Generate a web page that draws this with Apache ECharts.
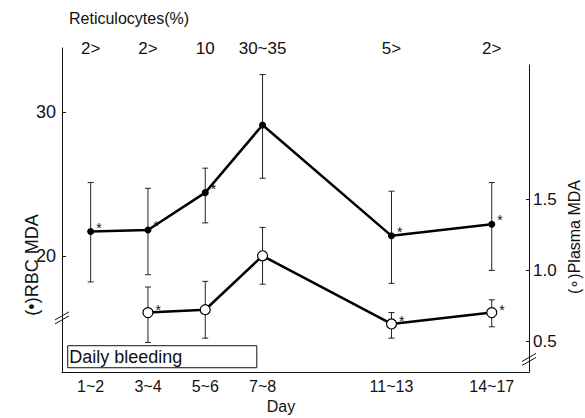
<!DOCTYPE html>
<html lang="en">
<head>
<meta charset="UTF-8">
<title>RBC MDA / Plasma MDA</title>
<script src="https://cdn.jsdelivr.net/npm/echarts@6/dist/echarts.min.js"></script>
<style>
  html, body { margin: 0; padding: 0; background: #fff; }
  #chart { width: 585px; height: 418px; }
</style>
</head>
<body>
<div id="chart"></div>
<script>
  // day groups, placed at the middle day of each group on a linear day scale
  var dayPos = [1.5, 3.5, 5.5, 7.5, 12, 15.5];
  var dayLabels = ['1~2', '3~4', '5~6', '7~8', '11~13', '14~17'];
  var reticLabels = ['2>', '2>', '10', '30~35', '5>', '2>'];

  // RBC MDA (filled dots, left axis)
  var rbcMean = [21.7, 21.8, 24.4, 29.1, 21.4, 22.2];
  var rbcLow = [18.2, 18.7, 22.3, 25.4, 18.1, 19.0];
  var rbcHigh = [25.1, 24.7, 26.1, 32.6, 24.5, 25.1];
  var rbcStar = [1, 1, 1, 0, 1, 1];

  // Plasma MDA (open dots, right axis), nothing measured on day 1~2
  var plasmaMean = [null, 0.70, 0.72, 1.10, 0.62, 0.70];
  var plasmaLow = [null, 0.49, 0.52, 0.90, 0.52, 0.60];
  var plasmaHigh = [null, 0.88, 0.92, 1.30, 0.70, 0.79];
  var plasmaStar = [0, 1, 0, 0, 1, 1];

  var rbcTicks = [20, 30];
  var plasmaTicks = [0.5, 1.0, 1.5];
  var bleedingDays = [0.7, 7.3];

  var FONT = '"Liberation Sans", Arial, sans-serif';
  var INK = '#111';

  function pts(mean, star) {
    var out = [];
    for (var i = 0; i < dayPos.length; i++) {
      if (mean[i] == null) continue;
      out.push({ value: [dayPos[i], mean[i]], label: { show: !!star[i] } });
    }
    return out;
  }
  function bars(low, high) {
    var out = [];
    for (var i = 0; i < dayPos.length; i++) {
      if (low[i] == null) continue;
      out.push([dayPos[i], low[i], high[i]]);
    }
    return out;
  }
  function errRender(params, api) {
    var a = api.coord([api.value(0), api.value(1)]);
    var b = api.coord([api.value(0), api.value(2)]);
    var w = 3, st = { stroke: '#222', lineWidth: 1 };
    return {
      type: 'group',
      children: [
        { type: 'line', shape: { x1: a[0], y1: a[1], x2: b[0], y2: b[1] }, style: st },
        { type: 'line', shape: { x1: a[0] - w, y1: a[1], x2: a[0] + w, y2: a[1] }, style: st },
        { type: 'line', shape: { x1: b[0] - w, y1: b[1], x2: b[0] + w, y2: b[1] }, style: st }
      ]
    };
  }
  function fmtDay(v) {
    var i = dayPos.indexOf(v);
    return i < 0 ? '' : dayLabels[i];
  }
  function fmtRetic(v) {
    var i = dayPos.indexOf(v);
    return i < 0 ? '' : reticLabels[i];
  }

  var chart = echarts.init(document.getElementById('chart'), null, { renderer: 'svg' });

  var axisLine = { show: true, lineStyle: { color: INK, width: 1 } };
  var labelStyle = { color: INK, fontFamily: FONT };

  var option = {
    animation: false,
    textStyle: { fontFamily: FONT, color: INK },
    grid: [
      { left: 62, right: 56, top: 48, bottom: 46 },
      { left: 62, right: 56, top: 65, bottom: 46 }
    ],
    xAxis: [
      {
        type: 'value', gridIndex: 0, position: 'bottom', min: 0.5, max: 16.8,
        axisLine: axisLine, axisTick: { show: false }, splitLine: { show: false },
        axisLabel: Object.assign({ customValues: dayPos, formatter: fmtDay, fontSize: 16, margin: 6 }, labelStyle)
      },
      {
        type: 'value', gridIndex: 0, position: 'top', min: 0.5, max: 16.8, offset: -15,
        axisLine: { show: false }, axisTick: { show: false }, splitLine: { show: false },
        axisLabel: Object.assign({ customValues: dayPos, formatter: fmtRetic, fontSize: 17, margin: 6 }, labelStyle)
      },
      { type: 'value', gridIndex: 1, min: 0.5, max: 16.8, show: false }
    ],
    yAxis: [
      {
        type: 'value', gridIndex: 0, position: 'left', min: 11.944, max: 34.444,
        axisLine: axisLine, splitLine: { show: false },
        axisTick: { show: true, inside: true, length: 4, customValues: rbcTicks, lineStyle: { color: INK } },
        axisLabel: Object.assign({ customValues: rbcTicks, fontSize: 18, margin: 6 }, labelStyle)
      },
      {
        type: 'value', gridIndex: 1, position: 'right', min: 0.2817, max: 2.4437,
        axisLine: axisLine, splitLine: { show: false },
        axisTick: { show: true, inside: true, length: 3, customValues: plasmaTicks, lineStyle: { color: INK } },
        axisLabel: Object.assign({ customValues: plasmaTicks, fontSize: 17, margin: 4,
          formatter: function (v) { return v.toFixed(1); } }, labelStyle)
      }
    ],
    series: [
      {
        type: 'custom', name: 'rbc err', xAxisIndex: 0, yAxisIndex: 0, z: 1,
        renderItem: errRender, encode: { x: 0, y: [1, 2] }, data: bars(rbcLow, rbcHigh),
        markArea: {
          silent: true,
          itemStyle: { color: '#fff', borderColor: INK, borderWidth: 1 },
          label: { show: true, position: 'insideLeft', distance: 2, color: INK, fontFamily: FONT, fontSize: 18 },
          data: [[
            { name: 'Daily bleeding', xAxis: bleedingDays[0], yAxis: 12.24 },
            { xAxis: bleedingDays[1], yAxis: 13.77 }
          ]]
        }
      },
      {
        type: 'custom', name: 'plasma err', xAxisIndex: 2, yAxisIndex: 1, z: 1,
        renderItem: errRender, encode: { x: 0, y: [1, 2] }, data: bars(plasmaLow, plasmaHigh)
      },
      {
        type: 'line', name: 'RBC MDA', xAxisIndex: 0, yAxisIndex: 0, z: 3,
        data: pts(rbcMean, rbcStar),
        symbol: 'circle', symbolSize: 7,
        itemStyle: { color: '#000' },
        lineStyle: { color: '#000', width: 2.5 },
        label: { formatter: '*', position: 'right', distance: 2, offset: [0, -4], fontSize: 14, color: INK }
      },
      {
        type: 'line', name: 'Plasma MDA', xAxisIndex: 2, yAxisIndex: 1, z: 3,
        data: pts(plasmaMean, plasmaStar),
        symbol: 'circle', symbolSize: 10,
        itemStyle: { color: '#fff', borderColor: '#000', borderWidth: 1.2 },
        lineStyle: { color: '#000', width: 2.5 },
        label: { formatter: '*', position: 'right', distance: 2, offset: [0, -3], fontSize: 14, color: INK }
      }
    ]
  };
  chart.setOption(option);

  // axis break marks and free text, placed from the axes
  function breakMark(x, y) {
    return {
      type: 'group', x: x, y: y, z: 20,
      children: [
        { type: 'polygon', shape: { points: [[-7, 2], [7, -6], [7, -2], [-7, 6]] }, style: { fill: '#fff' } },
        { type: 'line', shape: { x1: -7, y1: 2, x2: 7, y2: -6 }, style: { stroke: INK, lineWidth: 1 } },
        { type: 'line', shape: { x1: -7, y1: 6, x2: 7, y2: -2 }, style: { stroke: INK, lineWidth: 1 } }
      ]
    };
  }
  var xl = chart.convertToPixel({ xAxisIndex: 0 }, 0.5);
  var xr = chart.convertToPixel({ xAxisIndex: 0 }, 16.8);
  var yl = chart.convertToPixel({ yAxisIndex: 0 }, 15.7);
  var yr = chart.convertToPixel({ yAxisIndex: 1 }, 0.37);

  chart.setOption({
    graphic: [
      breakMark(xl, yl),
      breakMark(xr, yr),
      { type: 'text', x: 69, y: 18, style: { text: 'Reticulocytes(%)', font: '16px ' + FONT, fill: INK, verticalAlign: 'middle' } },
      { type: 'text', x: 281, y: 406, style: { text: 'Day', font: '16px ' + FONT, fill: INK, align: 'center', verticalAlign: 'middle' } },
      { type: 'text', x: 32, y: 265, rotation: Math.PI / 2, style: { text: '(\u2022)RBC MDA', font: '18px ' + FONT, fill: INK, align: 'center', verticalAlign: 'middle' } },
      { type: 'text', x: 574, y: 237, rotation: Math.PI / 2, style: { text: '(\u2218)Plasma MDA', font: '16px ' + FONT, fill: INK, align: 'center', verticalAlign: 'middle' } }
    ]
  });
</script>
</body>
</html>
